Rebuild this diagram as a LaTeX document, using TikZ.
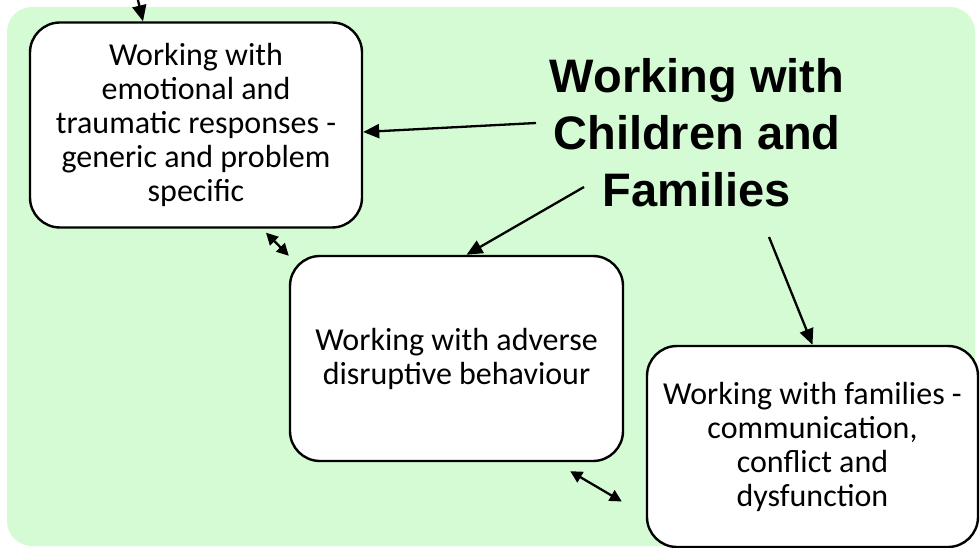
\documentclass[tikz,border=0pt]{standalone}
\usepackage{fontspec}
\setmainfont{Carlito}
\newfontfamily\headfont{Liberation Sans}
\usetikzlibrary{arrows.meta}
\definecolor{panelgreen}{RGB}{212,251,212}
\tikzset{
  card/.style={draw=black, line width=2.4pt, fill=white, rounded corners=30pt,
    align=center, inner sep=0pt, font=\fontsize{32}{34}\selectfont},
  link/.style={line width=2.3pt, -{Triangle[length=16pt,width=14pt]}},
  twoway/.style={line width=2.3pt, {Triangle[length=12pt,width=12pt]}-{Triangle[length=12pt,width=12pt]}},
  headline/.style={align=center, inner sep=0pt,
    font=\headfont\bfseries\fontsize{47}{57}\selectfont}
}
\begin{document}
\begin{tikzpicture}[x=1pt, y=-1pt]
  \useasboundingbox (0,0) rectangle (980,548);
  % light green panel behind everything
  \fill[panelgreen, rounded corners=25pt] (7,7) rectangle (975,546);

  % topic boxes
  \node[card, minimum width=332pt, minimum height=205pt] (emotion) at (196,125)
    {Working with\\emotional and\\traumatic responses -\\generic and problem\\specific};
  \node[card, minimum width=333pt, minimum height=205pt] (behaviour) at (456.5,358.5)
    {Working with adverse\\disruptive behaviour};
  \node[card, minimum width=331pt, minimum height=201pt] (families) at (812.5,446.5)
    {Working with families -\\communication,\\conflict and\\dysfunction};

  % heading
  \node[headline] (title) at (697,133) {Working with\\Children and\\Families};

  % free starting points of the arrows
  \coordinate (fromtop) at (137,-4);
  \coordinate (t1) at (536,123);
  \coordinate (t2) at (584,187);
  \coordinate (t3) at (769,237);

  \draw[link] (fromtop) -- ([shift={(-53,0)}]emotion.north);
  \draw[link] (t1) -- ([shift={(0,7)}]emotion.east);
  \draw[link] (t2) -- ([shift={(10,0)}]behaviour.north);
  \draw[link] (t3) -- (families.north);

  \draw[twoway] ([shift={(70,4)}]emotion.south) -- ([shift={(0,1)}]behaviour.north west);
  \draw[twoway] ([shift={(-54,9)}]behaviour.south east) -- ([shift={(-24,55)}]families.west);
\end{tikzpicture}
\end{document}
